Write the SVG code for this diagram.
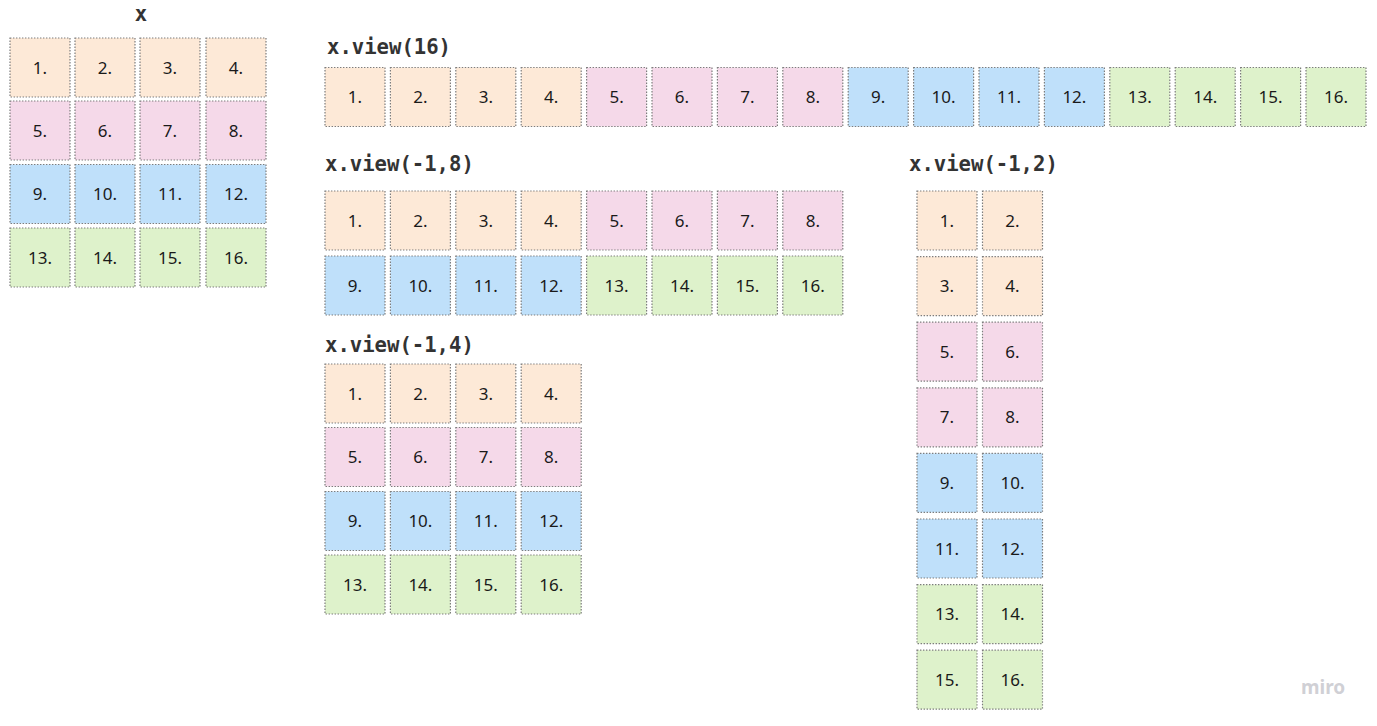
<svg xmlns="http://www.w3.org/2000/svg" width="1377" height="726" viewBox="0 0 1377 726">
<style>
.bg{fill:#ffffff}
g.c rect{width:60px;height:59px;stroke:#7d7d7d;stroke-width:1.2;stroke-dasharray:1.4 1.6}
g.o rect{fill:#fde9d7}
g.p rect{fill:#f5d9e9}
g.b rect{fill:#bfe0fa}
g.g rect{fill:#def2cb}
g.c text{font-family:"Noto Sans","Open Sans",sans-serif;font-size:17px;fill:#1a1a1a;text-anchor:middle}
.lbl{font-family:"DejaVu Sans Mono","Liberation Mono",monospace;font-weight:bold;font-size:20.6px;fill:#333333}
.wm{font-family:"Noto Sans","Open Sans",sans-serif;font-weight:bold;font-size:19px;fill:#d0d0d5}
</style>
<rect class="bg" x="0" y="0" width="1377" height="726"/>

<g id="label-x"><text class="lbl" x="141" y="21" text-anchor="middle">x</text></g>
<g id="label-view16"><text class="lbl" x="327" y="54">x.view(16)</text></g>
<g id="label-view-1-8"><text class="lbl" x="325" y="171">x.view(-1,8)</text></g>
<g id="label-view-1-4"><text class="lbl" x="325" y="352">x.view(-1,4)</text></g>
<g id="label-view-1-2"><text class="lbl" x="909" y="171">x.view(-1,2)</text></g>

<g id="x-grid">
<g id="x-1" class="c o" transform="translate(10,38)"><rect/><text x="30" y="35.5">1.</text></g>
<g id="x-2" class="c o" transform="translate(75,38)"><rect/><text x="30" y="35.5">2.</text></g>
<g id="x-3" class="c o" transform="translate(140,38)"><rect/><text x="30" y="35.5">3.</text></g>
<g id="x-4" class="c o" transform="translate(206,38)"><rect/><text x="30" y="35.5">4.</text></g>
<g id="x-5" class="c p" transform="translate(10,101)"><rect/><text x="30" y="35.5">5.</text></g>
<g id="x-6" class="c p" transform="translate(75,101)"><rect/><text x="30" y="35.5">6.</text></g>
<g id="x-7" class="c p" transform="translate(140,101)"><rect/><text x="30" y="35.5">7.</text></g>
<g id="x-8" class="c p" transform="translate(206,101)"><rect/><text x="30" y="35.5">8.</text></g>
<g id="x-9" class="c b" transform="translate(10,164.5)"><rect/><text x="30" y="35.5">9.</text></g>
<g id="x-10" class="c b" transform="translate(75,164.5)"><rect/><text x="30" y="35.5">10.</text></g>
<g id="x-11" class="c b" transform="translate(140,164.5)"><rect/><text x="30" y="35.5">11.</text></g>
<g id="x-12" class="c b" transform="translate(206,164.5)"><rect/><text x="30" y="35.5">12.</text></g>
<g id="x-13" class="c g" transform="translate(10,228)"><rect/><text x="30" y="35.5">13.</text></g>
<g id="x-14" class="c g" transform="translate(75,228)"><rect/><text x="30" y="35.5">14.</text></g>
<g id="x-15" class="c g" transform="translate(140,228)"><rect/><text x="30" y="35.5">15.</text></g>
<g id="x-16" class="c g" transform="translate(206,228)"><rect/><text x="30" y="35.5">16.</text></g>
</g>

<g id="view16">
<g id="v16-1" class="c o" transform="translate(325,67.5)"><rect/><text x="30" y="35.5">1.</text></g>
<g id="v16-2" class="c o" transform="translate(390.4,67.5)"><rect/><text x="30" y="35.5">2.</text></g>
<g id="v16-3" class="c o" transform="translate(455.8,67.5)"><rect/><text x="30" y="35.5">3.</text></g>
<g id="v16-4" class="c o" transform="translate(521.2,67.5)"><rect/><text x="30" y="35.5">4.</text></g>
<g id="v16-5" class="c p" transform="translate(586.6,67.5)"><rect/><text x="30" y="35.5">5.</text></g>
<g id="v16-6" class="c p" transform="translate(652,67.5)"><rect/><text x="30" y="35.5">6.</text></g>
<g id="v16-7" class="c p" transform="translate(717.4,67.5)"><rect/><text x="30" y="35.5">7.</text></g>
<g id="v16-8" class="c p" transform="translate(782.8,67.5)"><rect/><text x="30" y="35.5">8.</text></g>
<g id="v16-9" class="c b" transform="translate(848.2,67.5)"><rect/><text x="30" y="35.5">9.</text></g>
<g id="v16-10" class="c b" transform="translate(913.6,67.5)"><rect/><text x="30" y="35.5">10.</text></g>
<g id="v16-11" class="c b" transform="translate(979,67.5)"><rect/><text x="30" y="35.5">11.</text></g>
<g id="v16-12" class="c b" transform="translate(1044.4,67.5)"><rect/><text x="30" y="35.5">12.</text></g>
<g id="v16-13" class="c g" transform="translate(1109.8,67.5)"><rect/><text x="30" y="35.5">13.</text></g>
<g id="v16-14" class="c g" transform="translate(1175.2,67.5)"><rect/><text x="30" y="35.5">14.</text></g>
<g id="v16-15" class="c g" transform="translate(1240.6,67.5)"><rect/><text x="30" y="35.5">15.</text></g>
<g id="v16-16" class="c g" transform="translate(1306,67.5)"><rect/><text x="30" y="35.5">16.</text></g>
</g>

<g id="view-1-8">
<g id="v8-1" class="c o" transform="translate(325,191)"><rect/><text x="30" y="35.5">1.</text></g>
<g id="v8-2" class="c o" transform="translate(390.4,191)"><rect/><text x="30" y="35.5">2.</text></g>
<g id="v8-3" class="c o" transform="translate(455.8,191)"><rect/><text x="30" y="35.5">3.</text></g>
<g id="v8-4" class="c o" transform="translate(521.2,191)"><rect/><text x="30" y="35.5">4.</text></g>
<g id="v8-5" class="c p" transform="translate(586.6,191)"><rect/><text x="30" y="35.5">5.</text></g>
<g id="v8-6" class="c p" transform="translate(652,191)"><rect/><text x="30" y="35.5">6.</text></g>
<g id="v8-7" class="c p" transform="translate(717.4,191)"><rect/><text x="30" y="35.5">7.</text></g>
<g id="v8-8" class="c p" transform="translate(782.8,191)"><rect/><text x="30" y="35.5">8.</text></g>
<g id="v8-9" class="c b" transform="translate(325,256)"><rect/><text x="30" y="35.5">9.</text></g>
<g id="v8-10" class="c b" transform="translate(390.4,256)"><rect/><text x="30" y="35.5">10.</text></g>
<g id="v8-11" class="c b" transform="translate(455.8,256)"><rect/><text x="30" y="35.5">11.</text></g>
<g id="v8-12" class="c b" transform="translate(521.2,256)"><rect/><text x="30" y="35.5">12.</text></g>
<g id="v8-13" class="c g" transform="translate(586.6,256)"><rect/><text x="30" y="35.5">13.</text></g>
<g id="v8-14" class="c g" transform="translate(652,256)"><rect/><text x="30" y="35.5">14.</text></g>
<g id="v8-15" class="c g" transform="translate(717.4,256)"><rect/><text x="30" y="35.5">15.</text></g>
<g id="v8-16" class="c g" transform="translate(782.8,256)"><rect/><text x="30" y="35.5">16.</text></g>
</g>

<g id="view-1-4">
<g id="v4-1" class="c o" transform="translate(325,364)"><rect/><text x="30" y="35.5">1.</text></g>
<g id="v4-2" class="c o" transform="translate(390.4,364)"><rect/><text x="30" y="35.5">2.</text></g>
<g id="v4-3" class="c o" transform="translate(455.8,364)"><rect/><text x="30" y="35.5">3.</text></g>
<g id="v4-4" class="c o" transform="translate(521.2,364)"><rect/><text x="30" y="35.5">4.</text></g>
<g id="v4-5" class="c p" transform="translate(325,427.5)"><rect/><text x="30" y="35.5">5.</text></g>
<g id="v4-6" class="c p" transform="translate(390.4,427.5)"><rect/><text x="30" y="35.5">6.</text></g>
<g id="v4-7" class="c p" transform="translate(455.8,427.5)"><rect/><text x="30" y="35.5">7.</text></g>
<g id="v4-8" class="c p" transform="translate(521.2,427.5)"><rect/><text x="30" y="35.5">8.</text></g>
<g id="v4-9" class="c b" transform="translate(325,491.5)"><rect/><text x="30" y="35.5">9.</text></g>
<g id="v4-10" class="c b" transform="translate(390.4,491.5)"><rect/><text x="30" y="35.5">10.</text></g>
<g id="v4-11" class="c b" transform="translate(455.8,491.5)"><rect/><text x="30" y="35.5">11.</text></g>
<g id="v4-12" class="c b" transform="translate(521.2,491.5)"><rect/><text x="30" y="35.5">12.</text></g>
<g id="v4-13" class="c g" transform="translate(325,555)"><rect/><text x="30" y="35.5">13.</text></g>
<g id="v4-14" class="c g" transform="translate(390.4,555)"><rect/><text x="30" y="35.5">14.</text></g>
<g id="v4-15" class="c g" transform="translate(455.8,555)"><rect/><text x="30" y="35.5">15.</text></g>
<g id="v4-16" class="c g" transform="translate(521.2,555)"><rect/><text x="30" y="35.5">16.</text></g>
</g>

<g id="view-1-2">
<g id="v2-1" class="c o" transform="translate(917,191)"><rect/><text x="30" y="35.5">1.</text></g>
<g id="v2-2" class="c o" transform="translate(982.5,191)"><rect/><text x="30" y="35.5">2.</text></g>
<g id="v2-3" class="c o" transform="translate(917,256.6)"><rect/><text x="30" y="35.5">3.</text></g>
<g id="v2-4" class="c o" transform="translate(982.5,256.6)"><rect/><text x="30" y="35.5">4.</text></g>
<g id="v2-5" class="c p" transform="translate(917,322.2)"><rect/><text x="30" y="35.5">5.</text></g>
<g id="v2-6" class="c p" transform="translate(982.5,322.2)"><rect/><text x="30" y="35.5">6.</text></g>
<g id="v2-7" class="c p" transform="translate(917,387.8)"><rect/><text x="30" y="35.5">7.</text></g>
<g id="v2-8" class="c p" transform="translate(982.5,387.8)"><rect/><text x="30" y="35.5">8.</text></g>
<g id="v2-9" class="c b" transform="translate(917,453.4)"><rect/><text x="30" y="35.5">9.</text></g>
<g id="v2-10" class="c b" transform="translate(982.5,453.4)"><rect/><text x="30" y="35.5">10.</text></g>
<g id="v2-11" class="c b" transform="translate(917,519)"><rect/><text x="30" y="35.5">11.</text></g>
<g id="v2-12" class="c b" transform="translate(982.5,519)"><rect/><text x="30" y="35.5">12.</text></g>
<g id="v2-13" class="c g" transform="translate(917,584.6)"><rect/><text x="30" y="35.5">13.</text></g>
<g id="v2-14" class="c g" transform="translate(982.5,584.6)"><rect/><text x="30" y="35.5">14.</text></g>
<g id="v2-15" class="c g" transform="translate(917,650.2)"><rect/><text x="30" y="35.5">15.</text></g>
<g id="v2-16" class="c g" transform="translate(982.5,650.2)"><rect/><text x="30" y="35.5">16.</text></g>
</g>

<g id="connectors"></g>

<g id="watermark"><text class="wm" x="1301" y="694">miro</text></g>
</svg>
